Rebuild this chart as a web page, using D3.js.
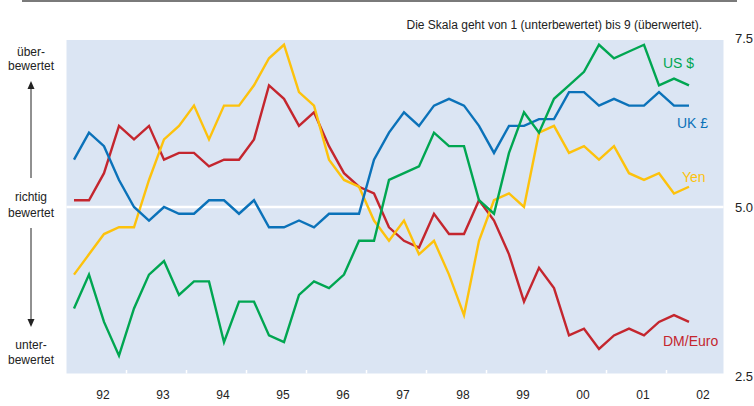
<!DOCTYPE html>
<html>
<head>
<meta charset="utf-8">
<script src="https://cdn.jsdelivr.net/npm/d3@7"></script>
<style>
    body { margin: 0; background: #fff; }
    svg { display: block; font-family: "Liberation Sans", Arial, sans-serif; }
</style>
</head>
<body>
<div id="chart"></div>
<script>

// quarterly readings, first quarter of 1992 to second quarter of 2002
const yearLabels = ["92", "93", "94", "95", "96", "97", "98", "99", "00", "01", "02"];
const valueTicks = [7.5, 5.0, 2.5];

const usd = [3.5, 4.0, 3.3, 2.8, 3.5, 4.0, 4.2, 3.7, 3.9, 3.9, 3.0, 3.6, 3.6, 3.1, 3.0, 3.7, 3.9, 3.8, 4.0, 4.5, 4.5,
    5.4, 5.5, 5.6, 6.1, 5.9, 5.9, 5.1, 4.9, 5.8, 6.4, 6.1, 6.6, 6.8, 7.0, 7.4, 7.2, 7.3, 7.4, 6.8, 6.9, 6.8];
const gbp = [5.7, 6.1, 5.9, 5.4, 5.0, 4.8, 5.0, 4.9, 4.9, 5.1, 5.1, 4.9, 5.1, 4.7, 4.7, 4.8, 4.7, 4.9, 4.9, 4.9, 5.7,
    6.1, 6.4, 6.2, 6.5, 6.6, 6.5, 6.2, 5.8, 6.2, 6.2, 6.3, 6.3, 6.7, 6.7, 6.5, 6.6, 6.5, 6.5, 6.7, 6.5, 6.5];
const jpy = [4.0, 4.3, 4.6, 4.7, 4.7, 5.4, 6.0, 6.2, 6.5, 6.0, 6.5, 6.5, 6.8, 7.2, 7.4, 6.7, 6.5, 5.7, 5.4, 5.3, 4.8,
    4.5, 4.8, 4.3, 4.5, 4.0, 3.4, 4.5, 5.1, 5.2, 5.0, 6.1, 6.2, 5.8, 5.9, 5.7, 5.9, 5.5, 5.4, 5.5, 5.2, 5.3];
const dm = [5.1, 5.1, 5.5, 6.2, 6.0, 6.2, 5.7, 5.8, 5.8, 5.6, 5.7, 5.7, 6.0, 6.8, 6.6, 6.2, 6.4, 5.9, 5.5, 5.3, 5.2,
    4.7, 4.5, 4.4, 4.9, 4.6, 4.6, 5.1, 4.8, 4.3, 3.6, 4.1, 3.8, 3.1, 3.2, 2.9, 3.1, 3.2, 3.1, 3.3, 3.4, 3.3];

const seriesNames = ["US $", "UK £", "Yen", "DM/Euro"];
const seriesValues = [usd, gbp, jpy, dm];
const seriesColors = ["#00a651", "#0b72b9", "#fdc20c", "#c4262e"];

const width = 754;
const height = 406;

const svg = d3.select("#chart")
    .append("svg")
        .attr("width", width)
        .attr("height", height);

const x = d3.scaleLinear()
    .domain([1992, 2003])
    .range([66.5, 726.5]);

const y = d3.scaleLinear()
    .domain([2.5, 7.5])
    .range([376, 38]);

const quarterTime = i => 1992.125 + i * 0.25;

// top rule
svg.append("line")
    .attr("x1", 22)
    .attr("x2", 737)
    .attr("y1", 1)
    .attr("y2", 1)
    .attr("stroke", "#7a7a7a")
    .attr("stroke-width", 2);

svg.append("text")
    .text("Die Skala geht von 1 (unterbewertet) bis 9 (überwertet).")
    .attr("x", 702)
    .attr("y", 29)
    .style("text-anchor", "end")
    .style("font-size", "12px")
    .style("fill", "#222");

// plot background
svg.append("rect")
    .attr("x", x(1992))
    .attr("y", 40)
    .attr("width", x(2002.95) - x(1992))
    .attr("height", 373.5 - 40)
    .attr("fill", "#dbe5f3");

svg.append("line")
    .attr("x1", x(1992))
    .attr("x2", x(2002.95))
    .attr("y1", y(5))
    .attr("y2", y(5))
    .attr("stroke", "#fff")
    .attr("stroke-width", 2.5);

// small white year ticks at the bottom edge
svg.selectAll("line.yeartick")
    .data(d3.range(1993, 2003))
    .enter()
    .append("line")
        .attr("class", "yeartick")
        .attr("x1", d => x(d))
        .attr("x2", d => x(d))
        .attr("y1", 373.5)
        .attr("y2", 370)
        .attr("stroke", "#fff")
        .attr("stroke-width", 1.5);

// x axis labels
const xAxis = d3.axisBottom(x)
    .tickValues(yearLabels.map((d, i) => 1992.6 + i))
    .tickFormat((d, i) => yearLabels[i])
    .tickSize(0)
    .tickPadding(0);

const gx = svg.append("g")
    .attr("transform", "translate(0, 390)")
    .call(xAxis);
gx.select(".domain").remove();
gx.selectAll("text")
    .style("font-size", "12px")
    .style("font-family", "Liberation Sans, Arial, sans-serif")
    .style("fill", "#222");

// y axis on the right
const yAxis = d3.axisRight(y)
    .tickValues(valueTicks)
    .tickFormat(d3.format(".1f"))
    .tickSize(0)
    .tickPadding(0);

const gy = svg.append("g")
    .attr("transform", "translate(735, 0)")
    .call(yAxis);
gy.select(".domain").remove();
gy.selectAll("text")
    .style("font-size", "13px")
    .style("font-family", "Liberation Sans, Arial, sans-serif")
    .style("fill", "#222");

// lines, drawn red first and green last
const drawOrder = [3, 2, 1, 0];

const line = d3.line()
    .x((d, i) => x(quarterTime(i)))
    .y(d => y(d));

svg.selectAll("path.series")
    .data(drawOrder)
    .enter()
    .append("path")
        .attr("class", "series")
        .attr("d", k => line(seriesValues[k]))
        .attr("fill", "none")
        .attr("stroke", k => seriesColors[k])
        .attr("stroke-width", 2.4)
        .attr("stroke-linejoin", "miter");

// series labels
const labelSpots = [[663, 68], [677, 128], [682, 182], [663, 346]];

svg.selectAll("text.serieslabel")
    .data(seriesNames)
    .enter()
    .append("text")
        .attr("class", "serieslabel")
        .text(d => d)
        .attr("x", (d, i) => labelSpots[i][0])
        .attr("y", (d, i) => labelSpots[i][1])
        .style("font-size", "14px")
        .style("fill", (d, i) => seriesColors[i]);

// left scale explanation
const leftText = [
    ["über-", 56], ["bewertet", 70],
    ["richtig", 201], ["bewertet", 217],
    ["unter-", 349], ["bewertet", 364]
];

svg.selectAll("text.lefttext")
    .data(leftText)
    .enter()
    .append("text")
        .attr("class", "lefttext")
        .text(d => d[0])
        .attr("x", 31)
        .attr("y", d => d[1])
        .style("text-anchor", "middle")
        .style("font-size", "12px")
        .style("fill", "#222");

svg.append("line")
    .attr("x1", 31).attr("x2", 31)
    .attr("y1", 88).attr("y2", 178)
    .attr("stroke", "#222")
    .attr("stroke-width", 1);
svg.append("path")
    .attr("d", "M31,81 L27.5,89 L34.5,89 Z")
    .attr("fill", "#222");

svg.append("line")
    .attr("x1", 31).attr("x2", 31)
    .attr("y1", 228).attr("y2", 319)
    .attr("stroke", "#222")
    .attr("stroke-width", 1);
svg.append("path")
    .attr("d", "M31,327 L27.5,319 L34.5,319 Z")
    .attr("fill", "#222");

</script>
</body>
</html>
